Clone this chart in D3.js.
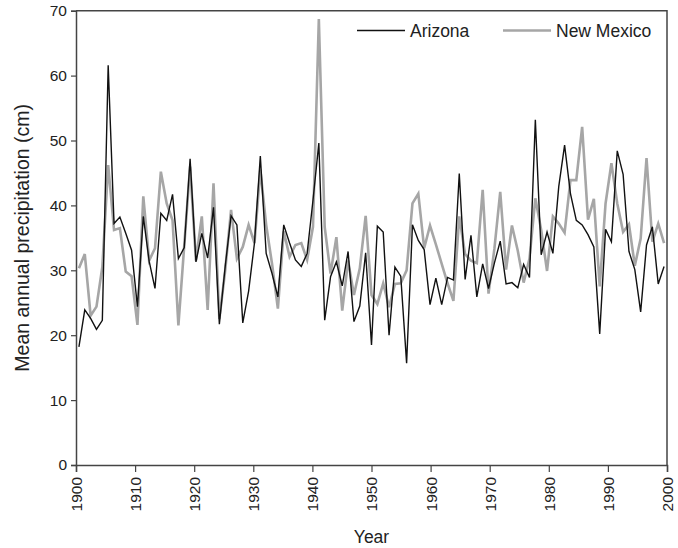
<!DOCTYPE html>
<html>
<head>
<meta charset="utf-8">
<script src="https://cdn.jsdelivr.net/npm/d3@7"></script>
<style>
  body { margin: 0; background: #fff; }
  text { font-family: "Liberation Sans", Arial, sans-serif; fill: #222; }
</style>
</head>
<body>
<div id="chart"></div>
<script>
// years 1900..2000 (one value per year)
const years = d3.range(1900, 2001);

const arizona = [
  18.2, 23.9, 22.6, 20.9, 22.3, 61.6, 37.2, 38.2, 35.7, 33.1,
  24.4, 38.3, 31.4, 27.2, 38.8, 37.7, 41.7, 31.8, 33.5, 47.2,
  31.3, 35.7, 31.9, 39.7, 21.7, 30.6, 38.4, 37.0, 21.9, 26.8,
  34.2, 47.6, 32.6, 29.5, 25.9, 37.0, 34.2, 31.6, 30.6, 32.6,
  40.8, 49.6, 22.3, 29.0, 31.3, 27.6, 32.9, 22.1, 24.5, 32.7,
  18.5, 36.8, 35.9, 20.0, 30.5, 29.1, 15.7, 37.0, 34.6, 33.2,
  24.7, 28.8, 24.7, 28.9, 28.5, 44.9, 28.6, 35.4, 25.9, 31.0,
  27.2, 31.1, 34.5, 27.9, 28.1, 27.3, 30.9, 28.9, 53.2, 32.4,
  35.9, 32.6, 42.9, 49.3, 41.8, 37.7, 37.0, 35.5, 33.6, 20.2,
  36.3, 34.4, 48.4, 44.8, 32.9, 30.1, 23.6, 33.9, 36.7, 27.9,
  30.6
];

const newMexico = [
  30.3, 32.5, 23.0, 24.4, 30.5, 46.2, 36.2, 36.5, 29.8, 29.1,
  21.6, 41.4, 31.5, 33.4, 45.2, 40.3, 37.7, 21.5, 33.8, 46.0,
  31.5, 38.3, 23.9, 43.4, 22.5, 30.0, 39.3, 31.8, 33.6, 37.0,
  34.2, 45.5, 37.0, 31.0, 24.1, 36.0, 32.1, 33.9, 34.2, 31.6,
  36.7, 68.7, 36.7, 29.5, 35.1, 23.8, 31.5, 26.2, 30.3, 38.4,
  26.2, 24.8, 28.0, 24.3, 27.9, 28.0, 30.0, 40.3, 41.8, 33.4,
  36.9, 34.0, 31.0, 28.0, 25.3, 38.3, 32.5, 31.5, 31.1, 42.4,
  26.4, 33.3, 42.1, 30.1, 36.9, 33.0, 28.1, 31.8, 41.1, 36.2,
  29.9, 38.3, 37.2, 35.8, 43.9, 43.9, 52.1, 37.8, 41.0, 27.5,
  40.3, 46.5, 40.3, 35.9, 37.1, 30.7, 34.9, 47.3, 34.4, 37.2,
  34.2
];

const seriesNames = ["Arizona", "New Mexico"];
const xTicks = d3.range(1900, 2001, 10);
const yTicks = d3.range(0, 71, 10);

const W = 678, H = 548;
const margin = {top: 10.7, right: 11, bottom: 83, left: 76};

const svg = d3.select("#chart").append("svg")
  .attr("width", W)
  .attr("height", H);

// category positions for the points, linear scale for the tick marks
const xBand = d3.scaleBand()
  .domain(years)
  .range([margin.left, W - margin.right])
  .padding(0);
const xAxisScale = d3.scaleLinear()
  .domain([1900, 2000])
  .range([margin.left, W - margin.right]);
const y = d3.scaleLinear()
  .domain([0, 70])
  .range([H - margin.bottom, margin.top]);

const xPos = yr => xBand(yr) + xBand.bandwidth() / 2;

// frame (top and right)
svg.append("path")
  .attr("d", `M${margin.left},${margin.top}H${W - margin.right}V${H - margin.bottom}`)
  .attr("fill", "none")
  .attr("stroke", "#444")
  .attr("stroke-width", 1.5);

// y axis
const yAxis = svg.append("g")
  .attr("transform", `translate(${margin.left},0)`)
  .call(d3.axisLeft(y).tickValues(yTicks).tickSize(5).tickPadding(4));
yAxis.select(".domain").attr("stroke", "#444").attr("stroke-width", 1.5);
yAxis.selectAll(".tick line").attr("stroke", "#444").attr("stroke-width", 1.2);
yAxis.selectAll("text").style("font-size", "15.5px").attr("fill", "#222");

// x axis
const xAxis = svg.append("g")
  .attr("transform", `translate(0,${H - margin.bottom})`)
  .call(d3.axisBottom(xAxisScale).tickValues(xTicks).tickFormat(d3.format("d")).tickSize(7));
xAxis.select(".domain").attr("stroke", "#444").attr("stroke-width", 1.5);
xAxis.selectAll(".tick line").attr("stroke", "#444").attr("stroke-width", 1.2);
xAxis.selectAll("text")
  .style("font-size", "15.5px")
  .attr("fill", "#222")
  .attr("transform", "rotate(-90)")
  .attr("x", -12)
  .attr("y", 0)
  .attr("dy", "0.35em")
  .style("text-anchor", "end");

// lines
const line = data => d3.line()
  .x((d, i) => xPos(years[i]))
  .y(d => y(d))(data);

svg.append("path")
  .attr("d", line(newMexico))
  .attr("fill", "none")
  .attr("stroke", "#a6a6a6")
  .attr("stroke-width", 2.6)
  .attr("stroke-linejoin", "miter");

svg.append("path")
  .attr("d", line(arizona))
  .attr("fill", "none")
  .attr("stroke", "#111")
  .attr("stroke-width", 1.4)
  .attr("stroke-linejoin", "miter");

// axis titles
svg.append("text")
  .attr("x", (margin.left + W - margin.right) / 2)
  .attr("y", 543)
  .attr("text-anchor", "middle")
  .style("font-size", "17.5px")
  .text("Year");

svg.append("text")
  .attr("transform", `translate(29,${(margin.top + H - margin.bottom) / 2}) rotate(-90)`)
  .attr("text-anchor", "middle")
  .style("font-size", "19.5px")
  .text("Mean annual precipitation (cm)");

// legend
const legend = svg.append("g");
const legendItems = [
  {name: seriesNames[0], x: 357, color: "#111", width: 1.4},
  {name: seriesNames[1], x: 503, color: "#a6a6a6", width: 2.6}
];
legendItems.forEach(d => {
  legend.append("line")
    .attr("x1", d.x).attr("x2", d.x + 48)
    .attr("y1", 30.5).attr("y2", 30.5)
    .attr("stroke", d.color)
    .attr("stroke-width", d.width);
  legend.append("text")
    .attr("x", d.x + 53)
    .attr("y", 30.5)
    .attr("dy", "0.35em")
    .style("font-size", "17.5px")
    .text(d.name);
});
</script>
</body>
</html>
